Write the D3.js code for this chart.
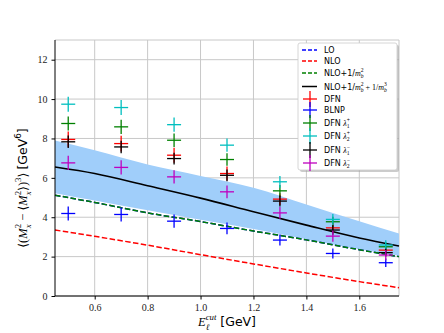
<!DOCTYPE html>
<html><head><meta charset="utf-8">
<script src="https://cdn.jsdelivr.net/npm/d3@7"></script>
<style>body{margin:0;background:#fff}svg{display:block}</style>
</head><body>
<svg id="c" width="444" height="333"></svg>
<script>
// ---- data ----
const xCurve = [0.45, 0.6, 0.8, 1.0, 1.2, 1.4, 1.6, 1.75];
const loCurve = [5.12, 4.75, 4.22, 3.78, 3.3, 2.85, 2.35, 2.0];
const nloCurve = [3.35, 3.03, 2.58, 2.1, 1.63, 1.17, 0.73, 0.42];
const nloMb2Curve = [5.12, 4.75, 4.22, 3.78, 3.3, 2.85, 2.35, 2.0];
const nloMb3Curve = [6.55, 6.22, 5.6, 4.97, 4.28, 3.6, 2.95, 2.54];
const bandUpper = [7.9, 7.4, 6.68, 6.1, 5.5, 4.65, 3.8, 3.18];
const bandLower = [5.22, 4.85, 4.35, 3.87, 3.4, 2.88, 2.37, 2.05];

const xPoints = [0.5, 0.7, 0.9, 1.1, 1.3, 1.5, 1.7];
const dfn    = [7.95, 7.74, 7.15, 6.22, 4.92, 3.46, 2.33];
const blnp   = [4.19, 4.14, 3.8, 3.43, 2.84, 2.16, 1.69];
const dfnL1p = [8.76, 8.59, 7.91, 6.93, 5.34, 3.77, 2.5];
const dfnL2p = [9.74, 9.57, 8.7, 7.66, 5.8, 3.89, 2.59];
const dfnL1m = [7.83, 7.57, 6.98, 6.13, 4.82, 3.35, 2.2];
const dfnL2m = [6.76, 6.53, 6.05, 5.29, 4.22, 3.04, 2.08];
const errDfn  = [0.4, 0.4, 0.38, 0.35, 0.3, 0.25, 0.2];
const errBlnp = [0.36, 0.36, 0.34, 0.3, 0.28, 0.25, 0.22];
const errL1p  = [0.36, 0.36, 0.34, 0.32, 0.3, 0.25, 0.22];
const errL2p  = [0.38, 0.38, 0.36, 0.34, 0.3, 0.28, 0.24];
const errL1m  = [0.32, 0.32, 0.3, 0.3, 0.28, 0.24, 0.2];
const errL2m  = [0.36, 0.36, 0.34, 0.32, 0.3, 0.28, 0.26];

const xTicks = [0.6, 0.8, 1.0, 1.2, 1.4, 1.6];
const yTicks = [0, 2, 4, 6, 8, 10, 12];

// ---- layout ----
const svg = d3.select("#c");
const L = 55, R = 399, T = 40, B = 296;
const x = d3.scaleLinear().domain([0.45, 1.75]).range([L, R]);
const y = d3.scaleLinear().domain([0, 13]).range([B, T]);
const serif = "'Liberation Serif', 'DejaVu Serif', serif";
const sans = "'DejaVu Sans', Arial, sans-serif";

// grid
const g = svg.append("g");
g.selectAll(".gx").data(xTicks).enter().append("line")
  .attr("x1", d => x(d)).attr("x2", d => x(d)).attr("y1", T).attr("y2", B)
  .attr("stroke", "#c8c8c8").attr("stroke-width", 1);
g.selectAll(".gy").data(yTicks).enter().append("line")
  .attr("x1", L).attr("x2", R).attr("y1", d => y(d)).attr("y2", d => y(d))
  .attr("stroke", "#c8c8c8").attr("stroke-width", 1);
svg.append("line").attr("x1", L).attr("x2", R).attr("y1", T).attr("y2", T).attr("stroke", "#c8c8c8");
svg.append("line").attr("x1", R).attr("x2", R).attr("y1", T).attr("y2", B).attr("stroke", "#c8c8c8");

// band
const bandData = xCurve.map((v, i) => ({x: v, lo: bandLower[i], hi: bandUpper[i]}));
svg.append("path").datum(bandData)
  .attr("d", d3.area().x(d => x(d.x)).y0(d => y(d.lo)).y1(d => y(d.hi)).curve(d3.curveMonotoneX))
  .attr("fill", "rgb(160,206,250)");

function curve(vals, color, dash, w) {
  svg.append("path").datum(xCurve.map((v, i) => [v, vals[i]]))
    .attr("d", d3.line().x(d => x(d[0])).y(d => y(d[1])).curve(d3.curveMonotoneX))
    .attr("fill", "none").attr("stroke", color).attr("stroke-width", w)
    .attr("stroke-dasharray", dash);
}
curve(loCurve, "#0000ff", "5.5,2.4", 1.5);
curve(nloCurve, "#ff0000", "5.5,2.4", 1.5);
curve(nloMb2Curve, "#008000", "5.5,2.4", 1.5);
curve(nloMb3Curve, "#000000", null, 1.6);

// points
function points(vals, errs, color) {
  const grp = svg.append("g");
  const d = xPoints.map((v, i) => ({x: v, y: vals[i], e: errs[i]}));
  grp.selectAll(".h").data(d).enter().append("line")
    .attr("x1", p => x(p.x) - 7).attr("x2", p => x(p.x) + 7)
    .attr("y1", p => y(p.y)).attr("y2", p => y(p.y))
    .attr("stroke", color).attr("stroke-width", 1.3);
  grp.selectAll(".v").data(d).enter().append("line")
    .attr("x1", p => x(p.x)).attr("x2", p => x(p.x))
    .attr("y1", p => y(p.y + p.e)).attr("y2", p => y(p.y - p.e))
    .attr("stroke", color).attr("stroke-width", 1.3);
}
points(dfn, errDfn, "#ff0000");
points(blnp, errBlnp, "#0000ff");
points(dfnL1p, errL1p, "#008000");
points(dfnL2p, errL2p, "#00bfbf");
points(dfnL1m, errL1m, "#000000");
points(dfnL2m, errL2m, "#bf00bf");

// axes
const ax = svg.append("g").attr("transform", `translate(0,${B})`)
  .call(d3.axisBottom(x).tickValues(xTicks).tickFormat(d3.format(".1f")).tickSize(3.5).tickPadding(4));
const ay = svg.append("g").attr("transform", `translate(${L},0)`)
  .call(d3.axisLeft(y).tickValues(yTicks).tickFormat(d3.format("d")).tickSize(3.5).tickPadding(4));
[ax, ay].forEach(a => {
  a.select(".domain").attr("stroke", "#000").attr("stroke-width", 1);
  a.selectAll(".tick line").attr("stroke", "#000");
  a.selectAll("text").attr("font-family", serif).attr("font-size", 10).attr("fill", "#222");
});
ax.select(".domain").attr("d", `M${L},0H${R}`);
ay.select(".domain").attr("d", `M0,${B}V${T}`);

// math text helper
function mathText(t, pieces, fs) {
  let shift = 0, pendingDx = 0;
  pieces.forEach(p => {
    if (p.sup !== undefined || p.sub !== undefined) {
      let supLen = 0;
      if (p.sup !== undefined) {
        const target = -0.5 * fs;
        const s = t.append("tspan").attr("dy", target - shift).text(p.sup)
          .attr("font-size", fs * 0.7).attr("font-family", p.sf === "sans" ? sans : serif)
          .attr("font-style", p.si ? "italic" : "normal");
        if (pendingDx) { s.attr("dx", pendingDx); pendingDx = 0; }
        shift = target;
        supLen = s.node().getComputedTextLength();
      }
      if (p.sub !== undefined) {
        const target = 0.3 * fs;
        const s = t.append("tspan").attr("dy", target - shift).text(p.sub)
          .attr("font-size", fs * 0.7).attr("font-family", serif)
          .attr("font-style", p.bi === false ? "normal" : "italic");
        if (supLen) s.attr("dx", -supLen);
        shift = target;
        const subLen = s.node().getComputedTextLength();
        if (supLen > subLen) pendingDx = supLen - subLen;
      }
    } else {
      const fam = p.f === "sans" ? sans : serif;
      const s = t.append("tspan").attr("dy", -shift).text(p.t)
        .attr("font-size", fs).attr("font-family", fam).attr("font-style", p.i ? "italic" : "normal");
      if (pendingDx) { s.attr("dx", pendingDx); pendingDx = 0; }
      shift = 0;
    }
  });
}

// y label
const yl = svg.append("text").attr("transform", "translate(27,188) rotate(-90)")
  .attr("text-anchor", "middle").attr("fill", "#000");
mathText(yl, [
  {t: "\u27E8("}, {t: "M", i: true}, {sup: "2", sub: "x"},
  {t: "\u00A0\u2212\u00A0\u27E8"}, {t: "M", i: true}, {sup: "2", sub: "x"},
  {t: "\u27E9)"}, {sup: "3"}, {t: "\u27E9\u00A0"},
  {t: "[GeV", f: "sans"}, {sup: "6", sf: "sans"}, {t: "]", f: "sans"}
], 12.5);

// x label
const xl = svg.append("text").attr("x", 227).attr("y", 326).attr("text-anchor", "middle").attr("fill", "#000");
mathText(xl, [{t: "E", i: true}, {sup: "cut", si: true, sub: "\u2113"}, {t: "\u00A0[GeV]", f: "sans"}], 12.5);

// legend
const lg = svg.append("g");
const lx = 298, ly = 43, lw = 99, lh = 127;
lg.append("rect").attr("x", lx + 2).attr("y", ly + 2).attr("width", lw).attr("height", lh)
  .attr("rx", 2).attr("fill", "#999").attr("opacity", 0.5);
lg.append("rect").attr("x", lx).attr("y", ly).attr("width", lw).attr("height", lh)
  .attr("rx", 2).attr("fill", "#fff").attr("stroke", "#ccc").attr("stroke-width", 0.8);

const legendItems = [
  {kind: "line", color: "#0000ff", dash: "4,2", lab: [{t: "LO", f: "sans"}]},
  {kind: "line", color: "#ff0000", dash: "4,2", lab: [{t: "NLO", f: "sans"}]},
  {kind: "line", color: "#008000", dash: "4,2", lab: [{t: "NLO+1/", f: "sans"}, {t: "m", i: true}, {sup: "2", sub: "b"}]},
  {kind: "line", color: "#000000", dash: null, lab: [{t: "NLO+1/", f: "sans"}, {t: "m", i: true}, {sup: "2", sub: "b"}, {t: "\u00A0+\u00A01/"}, {t: "m", i: true}, {sup: "3", sub: "b"}]},
  {kind: "pt", color: "#ff0000", lab: [{t: "DFN", f: "sans"}]},
  {kind: "pt", color: "#0000ff", lab: [{t: "BLNP", f: "sans"}]},
  {kind: "pt", color: "#008000", lab: [{t: "DFN\u00A0", f: "sans"}, {t: "\u03BB", i: true}, {sup: "+", sub: "1", bi: false}]},
  {kind: "pt", color: "#00bfbf", lab: [{t: "DFN\u00A0", f: "sans"}, {t: "\u03BB", i: true}, {sup: "+", sub: "2", bi: false}]},
  {kind: "pt", color: "#000000", lab: [{t: "DFN\u00A0", f: "sans"}, {t: "\u03BB", i: true}, {sup: "\u2212", sub: "1", bi: false}]},
  {kind: "pt", color: "#bf00bf", lab: [{t: "DFN\u00A0", f: "sans"}, {t: "\u03BB", i: true}, {sup: "\u2212", sub: "2", bi: false}]}
];
const legendY = [50, 61, 73, 86.5, 99, 110, 123, 136, 150, 163];
legendItems.forEach((it, i) => {
  const yy = legendY[i];
  if (it.kind === "line") {
    lg.append("line").attr("x1", 302).attr("x2", 317).attr("y1", yy).attr("y2", yy)
      .attr("stroke", it.color).attr("stroke-width", 1.5).attr("stroke-dasharray", it.dash);
  } else {
    lg.append("line").attr("x1", 303).attr("x2", 317).attr("y1", yy).attr("y2", yy)
      .attr("stroke", it.color).attr("stroke-width", 1.3);
    lg.append("line").attr("x1", 310).attr("x2", 310).attr("y1", yy - 8).attr("y2", yy + 8)
      .attr("stroke", it.color).attr("stroke-width", 1.3);
  }
  const tx = lg.append("text").attr("x", 324).attr("y", yy + 3).attr("fill", "#000");
  mathText(tx, it.lab, 8);
});
</script>
</body></html>
